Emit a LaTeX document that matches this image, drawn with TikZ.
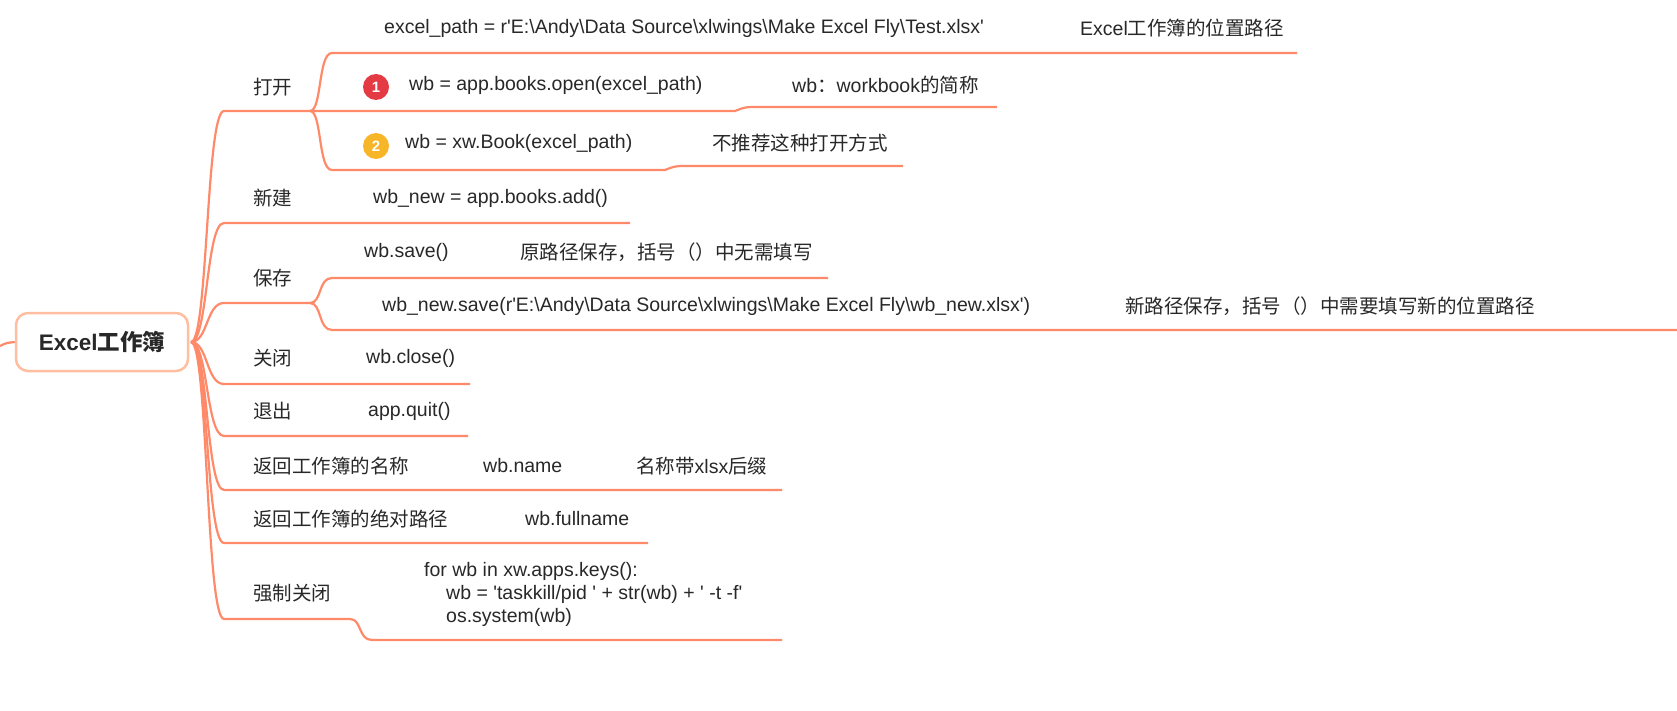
\documentclass[tikz,border=0pt]{standalone}
\usepackage{fontspec}
\setmainfont{Liberation Sans}
\newfontfamily\cjkf{Noto Sans CJK SC}
\newcommand{\zh}[1]{{\cjkf #1}}
\newcommand{\sq}{\textquotesingle}
\newcommand{\bs}{\textbackslash}
\definecolor{ln}{RGB}{255,138,106}
\definecolor{rootb}{RGB}{255,190,160}
\definecolor{tx}{RGB}{40,40,40}
\definecolor{bred}{RGB}{228,58,68}
\definecolor{borg}{RGB}{246,182,40}
\tikzset{
 br/.style={draw=ln,line width=2.2pt},
 tt/.style={anchor=west,inner sep=0pt,text=tx,font=\fontsize{19.5}{23}\selectfont},
 badge/.style={circle,fill=#1,text=white,minimum size=26pt,inner sep=0pt,font=\fontsize{15}{15}\selectfont\bfseries},
}
\begin{document}
\begin{tikzpicture}[x=1pt,y=-1pt]
\useasboundingbox (0,0) rectangle (1677,711);
% root
\node[draw=rootb,line width=2.5pt,rounded corners=12pt,minimum width=172pt,minimum height=58pt,fill=white,text=tx,font=\fontsize{22.5}{26}\selectfont\bfseries] (root) at (102,342) {Excel\zh{工作簿}};
\coordinate (rs) at (191,342);
\draw[br] (0,346) .. controls (6,343) .. (root.west);
% level-1 underlines
\foreach \n/\y/\e in {a/111/310,b/223/630,c/303/310,d/384/470,e/436/468,f/490/782,g/543/648,h/619/350}{
  \coordinate (\n0) at (224,\y);
  \coordinate (\n1) at (\e,\y);
  \draw[br] (rs) .. controls (208,342) and (206,\y) .. (\n0) -- (\n1);
}
% open children
\coordinate (a10) at (332,53); \coordinate (a11) at (1297,53);
\draw[br] (a1) .. controls (322,111) and (318,53) .. (a10) -- (a11);
\coordinate (a20) at (735,111); \coordinate (a21) at (997,107);
\draw[br] (a1) -- (a20) .. controls (745,107) .. (760,107) -- (a21);
\coordinate (a30) at (332,170); \coordinate (a31) at (665,170); \coordinate (a32) at (903,166);
\draw[br] (a1) .. controls (322,111) and (318,170) .. (a30) -- (a31) .. controls (675,166) .. (690,166) -- (a32);
% save children
\coordinate (c10) at (332,278); \coordinate (c11) at (828,278);
\draw[br] (c1) .. controls (322,303) and (318,278) .. (c10) -- (c11);
\coordinate (c20) at (332,330); \coordinate (c21) at (1677,330);
\draw[br] (c1) .. controls (322,303) and (318,330) .. (c20) -- (c21);
% force close child
\coordinate (h10) at (372,640); \coordinate (h11) at (782,640);
\draw[br] (h1) .. controls (362,619) and (358,640) .. (h10) -- (h11);
% level-1 labels
\node[tt] (l1) at (253,87) {\zh{打开}};
\node[tt] (l2) at (253,198) {\zh{新建}};
\node[tt] (l3) at (253,278) {\zh{保存}};
\node[tt] (l4) at (253,358) {\zh{关闭}};
\node[tt] (l5) at (253,411) {\zh{退出}};
\node[tt] (l6) at (253,466) {\zh{返回工作簿的名称}};
\node[tt] (l7) at (253,519) {\zh{返回工作簿的绝对路径}};
\node[tt] (l8) at (253,593) {\zh{强制关闭}};
% texts
\node[tt] (t1) at (384,28) {excel\_path = r\sq E:\bs Andy\bs Data Source\bs xlwings\bs Make Excel Fly\bs Test.xlsx\sq};
\node[tt] (t1b) at (1080,28) {Excel\zh{工作簿的位置路径}};
\node[badge=bred] (b1) at (376,87) {1};
\node[tt] (t2) at (409,85) {wb = app.books.open(excel\_path)};
\node[tt] (t2b) at (792,85) {wb\zh{：}workbook\zh{的简称}};
\node[badge=borg] (b2) at (376,146) {2};
\node[tt] (t3) at (405,143) {wb = xw.Book(excel\_path)};
\node[tt] (t3b) at (712,143) {\zh{不推荐这种打开方式}};
\node[tt] (t4) at (373,198) {wb\_new = app.books.add()};
\node[tt] (t5) at (364,252) {wb.save()};
\node[tt] (t5b) at (520,252) {\zh{原路径保存，括号（）中无需填写}};
\node[tt] (t6) at (382,306) {wb\_new.save(r\sq E:\bs Andy\bs Data Source\bs xlwings\bs Make Excel Fly\bs wb\_new.xlsx\sq)};
\node[tt] (t6b) at (1125,306) {\zh{新路径保存，括号（）中需要填写新的位置路径}};
\node[tt] (t7) at (366,358) {wb.close()};
\node[tt] (t8) at (368,411) {app.quit()};
\node[tt] (t9) at (483,466) {wb.name};
\node[tt] (t9b) at (636,466) {\zh{名称带}xlsx\zh{后缀}};
\node[tt] (t10) at (525,519) {wb.fullname};
\node[tt] (t11) at (424,571) {for wb in xw.apps.keys():};
\node[tt] (t12) at (446,594) {wb = \sq taskkill/pid \sq{} + str(wb) + \sq{} -t -f\sq};
\node[tt] (t13) at (446,617) {os.system(wb)};
\end{tikzpicture}
\end{document}
